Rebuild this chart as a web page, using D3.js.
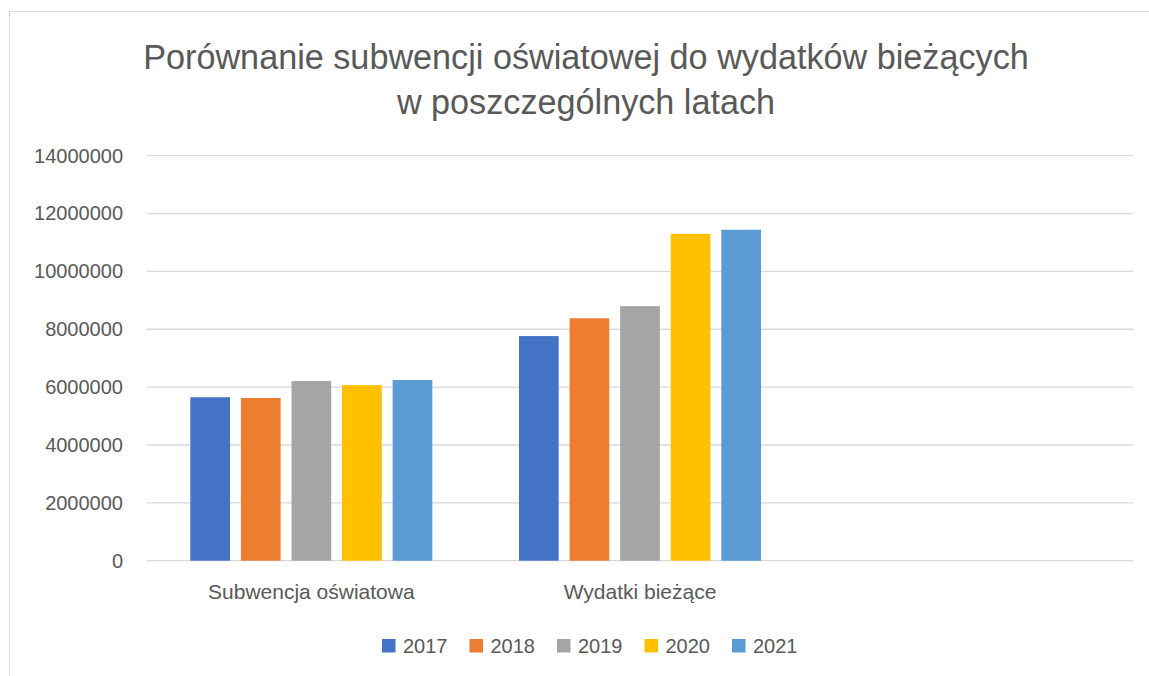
<!DOCTYPE html>
<html>
<head>
<meta charset="utf-8">
<script src="https://cdn.jsdelivr.net/npm/d3@7"></script>
<style>
  body { margin: 0; background: #fff; }
  text { font-family: "Liberation Sans", Arial, sans-serif; fill: #595959; }
</style>
</head>
<body>
<script>
var categories = ["Subwencja oświatowa", "Wydatki bieżące", ""];
var years = ["2017", "2018", "2019", "2020", "2021"];
var colors = ["#4472c4", "#ed7d31", "#a5a5a5", "#ffc000", "#5b9bd5"];
// wartości, po jednej tablicy na kategorię
var subwencja = [5650000, 5625000, 6210000, 6070000, 6245000];
var wydatki = [7765000, 8380000, 8800000, 11300000, 11440000];
var yTicks = [0, 2000000, 4000000, 6000000, 8000000, 10000000, 12000000, 14000000];
var titleLines = ["Porównanie subwencji oświatowej do wydatków bieżących", "w poszczególnych latach"];

var rows = [subwencja, wydatki, []];

var width = 1149, height = 676;
var svg = d3.select("body").append("svg").attr("width", width).attr("height", height);

// ramka wykresu (wychodzi poza kadr z prawej i z dołu)
svg.append("rect")
    .attr("x", 9.5).attr("y", 11.5)
    .attr("width", 1160).attr("height", 700)
    .attr("fill", "none").attr("stroke", "#d9d9d9");

var plotLeft = 147, plotRight = 1133, plotTop = 155.7, plotBottom = 560.7;

var y = d3.scaleLinear().domain([0, 14000000]).range([plotBottom, plotTop]);
var x0 = d3.scaleBand().domain(categories.map(function(d, i){ return i; })).range([plotLeft, plotRight]).paddingInner(0).paddingOuter(0);
// szerokość grupy ~242 z 328.7
var x1 = d3.scaleBand().domain(years).range([0, 242]).paddingInner(0.215).paddingOuter(0);

// siatka
svg.append("g").selectAll("line").data(yTicks).enter().append("line")
    .attr("x1", plotLeft).attr("x2", plotRight)
    .attr("y1", function(d){ return y(d); })
    .attr("y2", function(d){ return y(d); })
    .attr("stroke", "#d9d9d9").attr("stroke-width", 1.3);

// oś Y
var yAxis = d3.axisLeft(y).tickValues(yTicks).tickSize(0).tickPadding(0).tickFormat(d3.format("d"));
var gy = svg.append("g").attr("transform", "translate(123,0)").call(yAxis);
gy.select(".domain").remove();
gy.selectAll("text").style("font-size", "20px").style("fill", "#595959")
    .attr("font-family", null);

// słupki
var groups = svg.append("g").selectAll("g").data(rows).enter().append("g")
    .attr("transform", function(d, i){ return "translate(" + (x0(i) + (x0.bandwidth() - 242) / 2) + ",0)"; });

groups.selectAll("rect").data(function(d){ return d.map(function(v, j){ return {year: years[j], value: v, c: colors[j]}; }); })
    .enter().append("rect")
    .attr("x", function(d){ return x1(d.year); })
    .attr("width", x1.bandwidth())
    .attr("y", function(d){ return y(d.value); })
    .attr("height", function(d){ return plotBottom - y(d.value); })
    .attr("fill", function(d){ return d.c; });

// etykiety kategorii
svg.append("g").selectAll("text").data(categories).enter().append("text")
    .attr("x", function(d, i){ return x0(i) + x0.bandwidth() / 2; })
    .attr("y", 599)
    .attr("text-anchor", "middle")
    .style("font-size", "21px")
    .text(function(d){ return d; });

// tytuł
var title = svg.append("g");
title.selectAll("text").data(titleLines).enter().append("text")
    .attr("x", 586)
    .attr("y", function(d, i){ return 69 + i * 45; })
    .attr("text-anchor", "middle")
    .style("font-size", "30px")
    .text(function(d){ return d; });
// dopasowanie rozmiaru do szerokości pierwszej linii (~886px)
var t0 = title.select("text").node();
var fs = 30 * 886 / t0.getComputedTextLength();
title.selectAll("text").style("font-size", fs + "px");

// legenda
var legend = svg.append("g").selectAll("g").data(years).enter().append("g")
    .attr("transform", function(d, i){ return "translate(" + (382 + i * 87.5) + ",639)"; });
legend.append("rect").attr("width", 13.5).attr("height", 13.5)
    .attr("fill", function(d, i){ return colors[i]; });
legend.append("text").attr("x", 21).attr("y", 13.5)
    .style("font-size", "20px")
    .text(function(d){ return d; });
</script>
</body>
</html>
